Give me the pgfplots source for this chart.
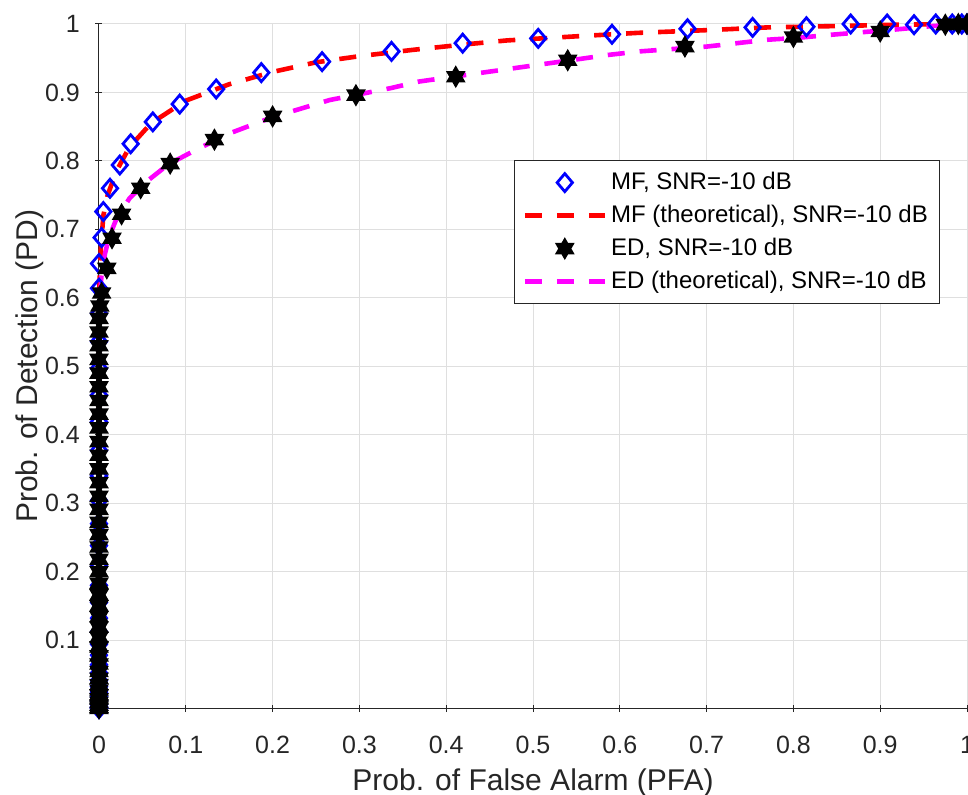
\documentclass[border=0pt]{standalone}
\usepackage{fontspec}
\setmainfont{Liberation Sans}
\usepackage{pgfplots}
\pgfplotsset{compat=1.18}

\definecolor{axgray}{gray}{0.15}
\definecolor{gridgray}{RGB}{223,223,223}
\definecolor{mlblue}{RGB}{0,0,255}
\definecolor{mlred}{RGB}{255,0,0}
\definecolor{mlmagenta}{RGB}{255,0,255}

% filled six-pointed star, like MATLAB's 'h' marker
\pgfdeclareplotmark{hexagram}{%
  \pgfpathmoveto{\pgfpointpolar{90}{\pgfplotmarksize}}%
  \pgfpathlineto{\pgfpointpolar{120}{0.577\pgfplotmarksize}}%
  \pgfpathlineto{\pgfpointpolar{150}{\pgfplotmarksize}}%
  \pgfpathlineto{\pgfpointpolar{180}{0.577\pgfplotmarksize}}%
  \pgfpathlineto{\pgfpointpolar{210}{\pgfplotmarksize}}%
  \pgfpathlineto{\pgfpointpolar{240}{0.577\pgfplotmarksize}}%
  \pgfpathlineto{\pgfpointpolar{270}{\pgfplotmarksize}}%
  \pgfpathlineto{\pgfpointpolar{300}{0.577\pgfplotmarksize}}%
  \pgfpathlineto{\pgfpointpolar{330}{\pgfplotmarksize}}%
  \pgfpathlineto{\pgfpointpolar{0}{0.577\pgfplotmarksize}}%
  \pgfpathlineto{\pgfpointpolar{30}{\pgfplotmarksize}}%
  \pgfpathlineto{\pgfpointpolar{60}{0.577\pgfplotmarksize}}%
  \pgfpathclose
  \pgfusepathqfillstroke
}
% open diamond, a bit wider than pgfplots' own
\pgfdeclareplotmark{mdiamond}{%
  \pgfpathmoveto{\pgfqpoint{0pt}{\pgfplotmarksize}}%
  \pgfpathlineto{\pgfqpoint{0.85\pgfplotmarksize}{0pt}}%
  \pgfpathlineto{\pgfqpoint{0pt}{-\pgfplotmarksize}}%
  \pgfpathlineto{\pgfqpoint{-0.85\pgfplotmarksize}{0pt}}%
  \pgfpathclose
  \pgfusepathqstroke
}

\begin{document}
\begin{tikzpicture}
\begin{axis}[
    scale only axis, width=434pt, height=342.25pt,
    xmin=0, xmax=1, ymin=0, ymax=1,
    clip=false,
    axis lines=left,
    axis line style={-, draw=axgray, line width=0.5pt},
    xtick={0,0.1,0.2,0.3,0.4,0.5,0.6,0.7,0.8,0.9,1},
    ytick={0.1,0.2,0.3,0.4,0.5,0.6,0.7,0.8,0.9,1},
    /pgf/number format/assume math mode=true,
    /pgf/number format/fixed,
    grid=major, grid style={gridgray, line width=0.5pt},
    tick style={axgray, line width=0.5pt}, major tick length=3.5pt,
    tick label style={font=\fontsize{12.5}{15}\selectfont, text=axgray},
    xticklabel style={anchor=base, yshift=-20.6pt},
    yticklabel style={xshift=-4.3pt},
    xlabel={Prob. of False Alarm (PFA)},
    ylabel={Prob. of Detection (PD)},
    label style={font=\fontsize{15}{18}\selectfont, text=axgray},
    xlabel style={at={(axis description cs:0.5,0)}, anchor=base, yshift=-41.1pt},
    ylabel style={at={(axis description cs:-0.0703,0.5)}, anchor=base},
    legend cell align=left,
    legend style={at={(axis description cs:0.4781,0.8013)}, anchor=north west,
        draw=axgray, line width=0.5pt, fill=white,
        font=\fontsize{12}{14}\selectfont,
        inner xsep=4pt, inner ysep=2.8pt,
        nodes={inner ysep=2.85pt, text height=8.6pt, text depth=2.2pt},
        /tikz/every even column/.append style={column sep=3.5pt}},
    legend image code/.code={%
        \draw[mark repeat=2, mark phase=2, #1]
            plot coordinates {(0pt,0pt) (20pt,0pt) (40pt,0pt)};},
]

% MF, simulated
\addplot[only marks, mark=mdiamond, mark size=4.5pt,
    mark options={draw=mlblue, line width=1.4pt}] coordinates {
(0,0) (0,0.001) (0,0.003) (0,0.006) (0,0.011) (0,0.017) (0,0.024) (0,0.032)
(0,0.041) (0,0.052) (0,0.064) (0,0.078) (0,0.094) (0,0.112) (0,0.132)
(0,0.155) (0,0.180) (0,0.208) (0,0.238) (0,0.270) (0,0.304) (0,0.340)
(0,0.377) (0,0.419) (0,0.458) (0,0.497) (0,0.536) (0,0.577) (0,0.614)
(0,0.650) (0.003,0.688) (0.005,0.726) (0.0127,0.760) (0.024,0.794)
(0.0365,0.825) (0.062,0.857) (0.093,0.883) (0.135,0.905) (0.187,0.929)
(0.257,0.945) (0.337,0.960) (0.419,0.972) (0.506,0.979) (0.591,0.985)
(0.678,0.993) (0.753,0.995) (0.815,0.996) (0.866,1.0) (0.908,1.0)
(0.939,0.999) (0.964,1.0) (0.983,1.0) (0.994,1.0) (1,1)};
\addlegendentry{MF, SNR=-10 dB}

% MF, theoretical
\addplot[mlred, line width=2.3pt, dash pattern=on 8.5pt off 7.5pt] coordinates {
(0,0) (0,0.3) (0,0.55) (0.0005,0.62) (0.002,0.67) (0.005,0.72) (0.01,0.75)
(0.02,0.785) (0.035,0.82) (0.06,0.855) (0.1,0.888) (0.15,0.912) (0.2,0.93)
(0.25,0.944) (0.3,0.953) (0.36,0.962) (0.42,0.970) (0.47,0.976) (0.55,0.982)
(0.62,0.987) (0.7,0.991) (0.77,0.995) (0.85,0.997) (0.92,0.999) (1,1)};
\addlegendentry{MF (theoretical), SNR=-10 dB}

% ED, simulated
\addplot[only marks, mark=hexagram, mark size=4.5pt,
    mark options={draw=black, fill=black, line width=1.2pt}] coordinates {
(0,0) (0,0.002) (0,0.005) (0,0.009) (0,0.014) (0,0.020) (0,0.027) (0,0.035)
(0,0.044) (0,0.054) (0,0.065) (0,0.077) (0,0.090) (0,0.104) (0,0.119)
(0,0.134) (0,0.150) (0,0.166) (0,0.183) (0,0.200) (0,0.218) (0,0.236)
(0,0.254) (0,0.272) (0,0.291) (0,0.310) (0,0.330) (0,0.350) (0,0.370)
(0,0.390) (0,0.410) (0,0.430) (0,0.450) (0,0.470) (0,0.490) (0,0.510)
(0,0.530) (0,0.550) (0,0.570) (0.001,0.588)
(0.003,0.607) (0.009,0.643) (0.015,0.687) (0.026,0.722) (0.048,0.760)
(0.082,0.796) (0.133,0.831) (0.200,0.865) (0.296,0.896) (0.411,0.923)
(0.540,0.947) (0.675,0.967) (0.800,0.981) (0.900,0.989) (0.975,0.999)
(0.990,1.0) (1,1)};
\addlegendentry{ED, SNR=-10 dB}

% ED, theoretical
\addplot[mlmagenta, line width=2.3pt, dash pattern=on 8.5pt off 7.5pt] coordinates {
(0,0) (0,0.3) (0,0.55) (0.001,0.60) (0.003,0.635) (0.007,0.665) (0.012,0.69)
(0.02,0.715) (0.035,0.745) (0.055,0.77) (0.08,0.795) (0.11,0.815) (0.15,0.84)
(0.2,0.864) (0.266,0.889) (0.335,0.906) (0.369,0.916) (0.442,0.929)
(0.515,0.942) (0.588,0.955) (0.623,0.960) (0.7,0.967) (0.77,0.977)
(0.807,0.980) (0.841,0.984) (0.879,0.988) (0.918,0.992) (0.96,0.997) (1,1)};
\addlegendentry{ED (theoretical), SNR=-10 dB}

\end{axis}
\pgfresetboundingbox
\useasboundingbox ([shift={(-49.5pt,-42.75pt)}]current axis.south west)
    rectangle ([shift={(0.5pt,12pt)}]current axis.north east);
\end{tikzpicture}
\end{document}
